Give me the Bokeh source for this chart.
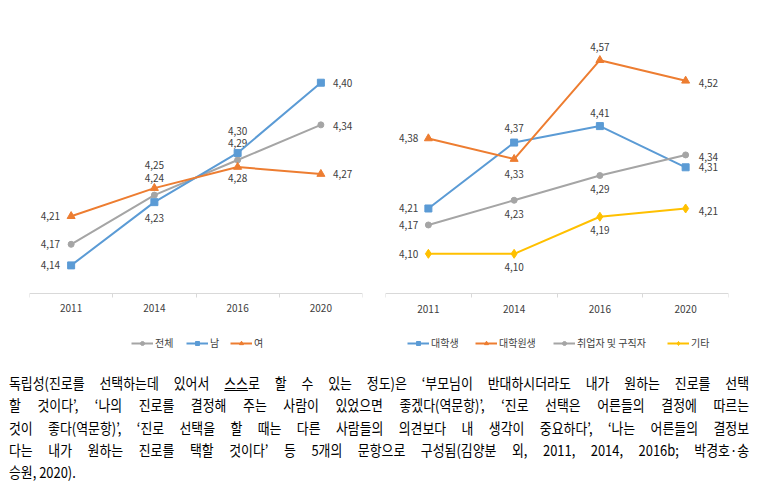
from bokeh.plotting import figure
from bokeh.models import (ColumnDataSource, FixedTicker, Legend, LegendItem, Div, Range1d,
                          LinearAxis)
from bokeh.layouts import row, column
from bokeh.embed import file_html
from bokeh.resources import INLINE
from bokeh.core.properties import value

# ---------------- data ----------------
years = ["2011", "2014", "2016", "2020"]

left_names = ["전체", "남", "여"]
left_total = [4.17, 4.24, 4.29, 4.34]
left_male = [4.14, 4.23, 4.30, 4.40]
left_female = [4.21, 4.25, 4.28, 4.27]

right_names = ["대학생", "대학원생", "취업자 및 구직자", "기타"]
right_univ = [4.21, 4.37, 4.41, 4.31]
right_grad = [4.38, 4.33, 4.57, 4.52]
right_work = [4.17, 4.23, 4.29, 4.34]
right_other = [4.10, 4.10, 4.19, 4.21]

caption_lines = [
    "독립성(진로를 선택하는데 있어서 <u>스스</u>로 할 수 있는 정도)은 ‘부모님이 반대하시더라도 내가 원하는 진로를 선택",
    "할 것이다’, ‘나의 진로를 결정해 주는 사람이 있었으면 좋겠다(역문항)’, ‘진로 선택은 어른들의 결정에 따르는",
    "것이 좋다(역문항)’, ‘진로 선택을 할 때는 다른 사람들의 의견보다 내 생각이 중요하다’, ‘나는 어른들의 결정보",
    "다는 내가 원하는 진로를 택할 것이다’ 등 5개의 문항으로 구성됨(김양분 외, 2011, 2014, 2016b; 박경호·송",
    "승원, 2020).",
]

# ---------------- styles ----------------
BLUE = "#5B9BD5"
ORANGE = "#ED7D31"
GRAY = "#A5A5A5"
YELLOW = "#FFC000"
FONT = "Noto Sans CJK KR"
TXT = "#404040"

# label placement: (side, dy) ; side L=left of point, R=right, C=centered
left_label_pos = [
    [("L", 0), ("C", -17.5), ("C", -17.3), ("R", 1)],
    [("L", 0), ("C", 15.7), ("C", -22.3), ("R", 0)],
    [("L", 0), ("C", -23.4), ("C", 10.7), ("R", 0)],
]
right_label_pos = [
    [("L", 0), ("C", -14.7), ("C", -13.4), ("R", 0)],
    [("L", 0), ("C", 15.4), ("C", -13.4), ("R", 2)],
    [("L", 0), ("C", 13.3), ("C", 13.7), ("R", 1.6)],
    [("L", 0), ("C", 12.7), ("C", 13.3), ("R", 2.3)],
]
# legend item x positions (px from the frame's left edge)
left_legend_x = [102, 157, 201]
right_legend_x = [22, 90, 168, 282]
LEGEND_Y = 15


def make_chart(width, ymin, ymax, axis_at, border_l, border_r, series, names, colors,
               markers, msizes, label_pos, dx_left, dx_right, legend_x):
    p = figure(width=width, height=365, x_range=Range1d(-0.5, 3.5),
               y_range=Range1d(ymin, ymax), output_backend="svg",
               toolbar_location=None, y_axis_location=None, x_axis_location=None,
               min_border_left=border_l, min_border_right=border_r,
               min_border_top=13, min_border_bottom=0)
    p.grid.visible = False
    p.outline_line_color = None
    p.background_fill_color = "white"
    p.border_fill_color = "white"

    xs = list(range(len(years)))
    ax = LinearAxis(fixed_location=axis_at)
    ax.ticker = FixedTicker(ticks=xs, minor_ticks=[i - 0.5 for i in range(len(years) + 1)])
    ax.major_label_overrides = {i: y for i, y in enumerate(years)}
    ax.axis_line_color = "#D9D9D9"
    ax.major_tick_line_color = None
    ax.major_tick_out = 4
    ax.major_tick_in = 0
    ax.minor_tick_line_color = "#D9D9D9"
    ax.minor_tick_out = 4
    ax.minor_tick_in = 0
    ax.major_label_text_font = FONT
    ax.major_label_text_font_size = "10px"
    ax.major_label_text_color = TXT
    ax.major_label_standoff = 7
    p.add_layout(ax, "below")

    for vals, name, col, mk, ms, lp, lx in zip(series, names, colors, markers, msizes,
                                               label_pos, legend_x):
        src = ColumnDataSource(dict(x=xs, y=vals))
        lr = p.line("x", "y", source=src, line_color=col, line_width=2)
        sr = p.scatter("x", "y", source=src, marker=mk, size=ms, fill_color=col,
                       line_color=col)
        for i, (side, dy) in enumerate(lp):
            if side == "L":
                al, dx = "right", dx_left
            elif side == "R":
                al, dx = "left", dx_right
            else:
                al, dx = "center", 0
            p.text([xs[i]], [vals[i]], text=[f"{vals[i]:.2f}".replace(".", ",")],
                   text_align=al, text_baseline="middle", x_offset=dx, y_offset=dy,
                   text_font=value(FONT), text_font_size="10px", text_color=TXT)
        leg = Legend(items=[LegendItem(label=name, renderers=[lr, sr])],
                     orientation="horizontal", location=(lx, LEGEND_Y),
                     border_line_color=None, background_fill_alpha=0,
                     label_text_font=FONT, label_text_font_size="10px",
                     label_text_color=TXT, glyph_width=22, glyph_height=10,
                     spacing=0, label_standoff=2, padding=0, margin=0)
        p.add_layout(leg)
    return p


p1 = make_chart(380, 3.9975, 4.4985, 4.10, 29, 18,
                [left_total, left_male, left_female], left_names,
                [GRAY, BLUE, ORANGE], ["circle", "square", "triangle"], [6, 7, 8],
                left_label_pos, -11, 12, left_legend_x)
p2 = make_chart(384, 3.8289, 4.6833, 4.0036, 5, 36,
                [right_univ, right_grad, right_work, right_other], right_names,
                [BLUE, ORANGE, GRAY, YELLOW], ["square", "triangle", "circle", "diamond"],
                [7, 8, 6, 9], right_label_pos, -10, 13, right_legend_x)

scale = 0.86
inner_w = 740 / scale
parts = []
for i, ln in enumerate(caption_lines):
    last = i == len(caption_lines) - 1
    if last:
        parts.append(f'<div style="text-align:left;white-space:nowrap;">{ln}</div>')
    else:
        parts.append(f'<div style="text-align:justify;text-align-last:justify;">{ln}</div>')
html = (f'<div style="font-family:\'{FONT}\';font-size:15px;line-height:22.3px;color:#000;'
        f'width:{inner_w:.1f}px;transform:scaleX({scale});transform-origin:0 0;'
        f'padding-top:2px;margin-left:4px;">' + "".join(parts) + '</div>')
cap = Div(text=html, width=749, height=118, styles={"overflow": "hidden"})

layout = column(row(p1, p2), cap)
open("out.html", "w").write(file_html(layout, INLINE))
